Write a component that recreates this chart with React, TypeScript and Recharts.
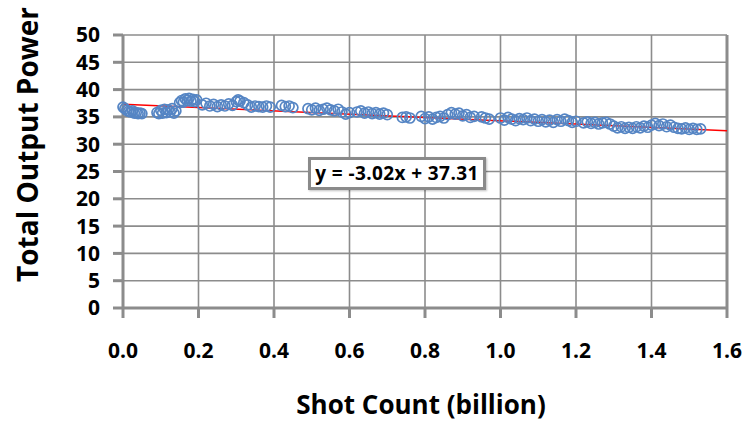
import {
  ScatterChart,
  Scatter,
  XAxis,
  YAxis,
  CartesianGrid,
  ReferenceLine,
  Label,
} from 'recharts';

// shot count in billions
const shotCount: number[] = [
  0.0, 0.005, 0.01, 0.015, 0.02, 0.025, 0.03, 0.035, 0.04, 0.045, 0.05,
  0.09, 0.095, 0.1, 0.105, 0.11, 0.115, 0.12, 0.125, 0.13, 0.135, 0.14,
  0.15, 0.155, 0.16, 0.165, 0.17, 0.175, 0.18, 0.185, 0.19, 0.195,
  0.21, 0.22, 0.23, 0.24, 0.25, 0.26, 0.27, 0.28, 0.29, 0.3, 0.305, 0.31, 0.32, 0.33,
  0.34, 0.35, 0.36, 0.37, 0.38, 0.39,
  0.42, 0.43, 0.44, 0.45,
  0.49, 0.5, 0.51, 0.52, 0.53, 0.54, 0.55, 0.56, 0.57, 0.58, 0.59, 0.6,
  0.62, 0.63, 0.64, 0.65, 0.66, 0.67, 0.68, 0.69, 0.7,
  0.74, 0.75, 0.76,
  0.79, 0.8, 0.81, 0.82, 0.83, 0.84, 0.85, 0.86, 0.87, 0.88, 0.89, 0.9, 0.91, 0.92, 0.93,
  0.95, 0.96, 0.97,
  1.0, 1.01, 1.02, 1.03, 1.04, 1.05, 1.06, 1.07, 1.08, 1.09,
  1.1, 1.11, 1.12, 1.13, 1.14, 1.15, 1.16, 1.17, 1.18, 1.19, 1.2,
  1.22, 1.23, 1.24, 1.25, 1.26, 1.27, 1.28, 1.29,
  1.3, 1.31, 1.32, 1.33, 1.34, 1.35, 1.36, 1.37, 1.38, 1.39,
  1.4, 1.41, 1.42, 1.43, 1.44, 1.45, 1.46, 1.47,
  1.48, 1.49, 1.5, 1.51, 1.52, 1.53,
];

const outputPower: number[] = [
  36.8, 36.5, 36.2, 36.0, 35.9, 36.1, 35.7, 35.8, 35.6, 35.7, 35.6,
  35.8, 35.6, 36.2, 35.7, 36.4, 35.8, 36.3, 35.9, 36.5, 35.7, 36.1,
  37.6, 38.0, 37.7, 38.3, 38.0, 38.4, 37.9, 38.2, 37.8, 38.1,
  37.2, 37.5, 37.0, 37.3, 36.9, 37.2, 37.0, 37.4, 37.1, 37.8, 38.1, 37.9, 37.6, 37.2,
  36.8, 37.0, 36.9, 36.8, 37.0, 36.8,
  37.1, 36.9, 37.0, 36.7,
  36.5, 36.3, 36.6, 36.2, 36.4, 36.6, 36.3, 36.1, 36.4, 35.9, 35.5, 35.8,
  35.9, 36.1, 35.7, 35.9, 35.6, 35.8, 35.5, 35.7, 35.4,
  34.9, 35.0, 34.8,
  35.1, 34.7, 35.0, 34.6, 34.9, 35.1, 34.8, 35.4, 35.8, 35.5, 35.7, 35.2, 35.4, 34.9, 35.1,
  35.0, 34.8, 34.6,
  34.8, 34.4, 34.9, 34.6, 34.3, 34.7, 34.5, 34.8, 34.3, 34.6,
  34.2, 34.5, 34.1, 34.4, 34.0, 34.5, 34.2, 34.6, 34.3, 34.0, 34.2,
  33.9, 34.1, 33.8, 34.0, 33.7, 33.9, 34.0, 33.7,
  33.3, 33.0, 33.2, 32.9, 33.1, 32.9, 33.2, 33.0, 33.3, 33.1,
  33.5, 33.8, 33.4, 33.7, 33.2, 33.5, 33.1, 32.9,
  32.8, 33.0, 32.7, 32.9, 32.7, 32.8,
];

const xTicks = [0, 0.2, 0.4, 0.6, 0.8, 1.0, 1.2, 1.4, 1.6];
const yTicks = [0, 5, 10, 15, 20, 25, 30, 35, 40, 45, 50];

// linear fit shown in the equation box
const slope = -3.02;
const intercept = 37.31;

const points = shotCount.map((x, i) => ({ x, y: outputPower[i] }));

const FONT = '"Open Sans", Lato, sans-serif';
const gridColor = '#8c8c8c';

function HollowCircle(props: any) {
  const { cx, cy } = props;
  if (cx == null || cy == null) return null;
  return <circle cx={cx} cy={cy} r={5} fill="none" stroke="#5585c4" strokeWidth={1.7} />;
}

export default function App() {
  return (
    <div style={{ position: 'absolute', left: 0, top: 0, width: 748, height: 421, background: '#fff' }}>
      <ScatterChart
        width={748}
        height={421}
        margin={{ top: 35, right: 21, bottom: 0, left: 0 }}
      >
        <CartesianGrid stroke={gridColor} strokeWidth={1.6} />
        <XAxis
          type="number"
          dataKey="x"
          domain={[0, 1.6]}
          ticks={xTicks}
          tickFormatter={(v: number) => v.toFixed(1)}
          height={113}
          tickSize={10}
          tickMargin={25}
          stroke={gridColor}
          strokeWidth={3}
          tick={{ fill: '#000', fontSize: 21, fontWeight: 700, fontFamily: FONT }}
        >
          <Label
            content={({ viewBox }: any) => (
              <text
                x={viewBox.x + viewBox.width / 2 - 4}
                y={viewBox.y + 106}
                textAnchor="middle"
                fontSize={26}
                fontWeight={700}
                fontFamily={FONT}
                fill="#000"
              >
                Shot Count (billion)
              </text>
            )}
          />
        </XAxis>
        <YAxis
          type="number"
          dataKey="y"
          domain={[0, 50]}
          ticks={yTicks}
          width={123}
          tickSize={10}
          tickMargin={13}
          stroke={gridColor}
          strokeWidth={3}
          interval={0}
          tick={{ fill: '#000', fontSize: 21, fontWeight: 700, fontFamily: FONT }}
        >
          <Label
            content={({ viewBox }: any) => {
              const cx = 27;
              const cy = viewBox.y + viewBox.height / 2 - 27;
              return (
                <text
                  x={cx}
                  y={cy}
                  transform={`rotate(-90 ${cx} ${cy})`}
                  textAnchor="middle"
                  dominantBaseline="central"
                  fontSize={28}
                  fontWeight={700}
                  fontFamily={FONT}
                  fill="#000"
                >
                  Total Output Power
                </text>
              );
            }}
          />
        </YAxis>
        <ReferenceLine x={1.6} stroke={gridColor} strokeWidth={3} />
        <Scatter data={points} shape={<HollowCircle />} isAnimationActive={false} />
        <ReferenceLine
          segment={[
            { x: 0, y: intercept },
            { x: 1.6, y: intercept + slope * 1.6 },
          ]}
          stroke="#ff0000"
          strokeWidth={1.5}
        />
      </ScatterChart>
      <div
        style={{
          position: 'absolute',
          left: 308,
          top: 157,
          width: 172,
          height: 27,
          border: '3px solid #8a8a8a',
          background: '#fff',
          boxShadow: '1px 1px 2px rgba(0,0,0,0.25)',
          fontFamily: FONT,
          fontWeight: 700,
          fontSize: 19,
          letterSpacing: 0.4,
          lineHeight: '27px',
          textAlign: 'center',
          color: '#000',
          whiteSpace: 'nowrap',
        }}
      >
        y = -3.02x + 37.31
      </div>
    </div>
  );
}
